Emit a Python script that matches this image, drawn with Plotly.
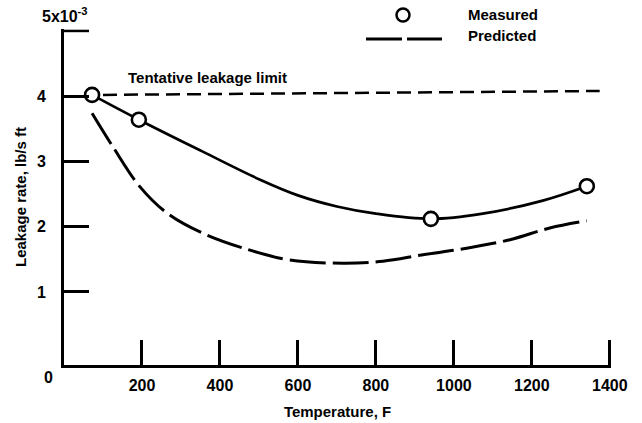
import plotly.graph_objects as go

# ---- data ----
temp_ticks = [200, 400, 600, 800, 1000, 1200, 1400]
temp_ticklabels = ["200", "400", "600", "800", "1000", "1200", "1400"]
rate_ticks = [1, 2, 3, 4]
rate_ticklabels = ["1", "2", "3", "4"]
rate_top = 5  # top of scale, labelled 5x10^-3

meas_temp = [72, 192, 941, 1341]
meas_rate = [4.02, 3.64, 2.12, 2.62]

meas_curve_temp = [72, 192, 356, 503, 600, 700, 800, 941, 1074, 1228, 1341]
meas_curve_rate = [4.02, 3.64, 3.15, 2.72, 2.48, 2.31, 2.20, 2.12, 2.20, 2.40, 2.62]

pred_temp = [72, 126, 195, 264, 356, 477, 579, 715, 818, 921, 1033, 1144, 1246, 1341]
pred_rate = [3.74, 3.22, 2.61, 2.21, 1.90, 1.64, 1.49, 1.44, 1.47, 1.57, 1.67, 1.80, 1.98, 2.09]

limit_temp = [100, 1374]
limit_rate = [4.02, 4.08]

FONT = "Liberation Sans, Arial, Helvetica, sans-serif"
BLACK = "#000000"

X_RANGE = [0, 1403]
Y_RANGE = [-0.12, 5.03]

W, H = 642, 423
L, R, T, B = 64, 31, 29, 58
pw, ph = W - L - R, H - T - B
TICKLEN = 25

def px_x(p):
    return (p - L) / pw

def px_y(p):
    return (H - B - p) / ph

fig = go.Figure()

fig.add_trace(go.Scatter(x=limit_temp, y=limit_rate, mode="lines",
                         line=dict(color=BLACK, width=2.5, dash="14px,7px"),
                         showlegend=False, hoverinfo="skip"))
fig.add_trace(go.Scatter(x=pred_temp, y=pred_rate, mode="lines", name="Predicted",
                         line=dict(color=BLACK, width=3, dash="36px,7px", shape="spline", smoothing=1),
                         showlegend=False))
fig.add_trace(go.Scatter(x=meas_curve_temp, y=meas_curve_rate, mode="lines",
                         line=dict(color=BLACK, width=2.7, shape="spline", smoothing=1),
                         showlegend=False, hoverinfo="skip"))
fig.add_trace(go.Scatter(x=meas_temp, y=meas_rate, mode="markers", name="Measured",
                         marker=dict(symbol="circle", size=14, color="white",
                                     line=dict(color=BLACK, width=2.6)),
                         showlegend=False, cliponaxis=False))

# edge ticks (plotly omits inside ticks at the very ends of an axis):
# tick length converted from pixels to axis units through the axis scale
x_per_px = (X_RANGE[1] - X_RANGE[0]) / pw
y_per_px = (Y_RANGE[1] - Y_RANGE[0]) / ph
fig.add_trace(go.Scatter(x=[temp_ticks[-1], temp_ticks[-1]],
                         y=[Y_RANGE[0], Y_RANGE[0] + TICKLEN * y_per_px],
                         mode="lines", line=dict(color=BLACK, width=2.5),
                         showlegend=False, hoverinfo="skip"))
fig.add_trace(go.Scatter(x=[X_RANGE[0], X_RANGE[0] + TICKLEN * x_per_px],
                         y=[rate_top, rate_top],
                         mode="lines", line=dict(color=BLACK, width=2.5),
                         showlegend=False, hoverinfo="skip"))

tickfont = dict(family=FONT, size=16, color=BLACK, weight="bold")
txtfont = dict(family=FONT, size=15, color=BLACK, weight="bold")

fig.update_layout(
    width=W, height=H,
    margin=dict(l=L, r=R, t=T, b=B, pad=0),
    paper_bgcolor="white", plot_bgcolor="white",
    showlegend=False,
    xaxis=dict(range=X_RANGE, tickvals=temp_ticks, ticktext=temp_ticklabels,
               ticks="inside", ticklen=TICKLEN, tickwidth=2.5, tickcolor=BLACK,
               showline=True, linewidth=3, linecolor=BLACK, showgrid=False,
               zeroline=False, tickfont=tickfont, ticklabelstandoff=4,
               automargin=False,
               title=dict(text="Temperature, F", font=txtfont, standoff=14)),
    yaxis=dict(range=Y_RANGE, tickvals=rate_ticks, ticktext=rate_ticklabels,
               ticks="inside", ticklen=TICKLEN, tickwidth=2.5, tickcolor=BLACK,
               showline=True, linewidth=3, linecolor=BLACK, showgrid=False,
               zeroline=False, tickfont=tickfont, ticklabelstandoff=12,
               automargin=False,
               title=dict(text="Leakage rate, lb/s ft", font=txtfont, standoff=7)),
)

annotations = [
    dict(x=0, y=Y_RANGE[0], xref="x", yref="y", text="0", showarrow=False,
         xshift=-16, yshift=-12, font=tickfont),
    dict(x=0, y=rate_top, xref="x", yref="y", text="5x10<sup>-3</sup>", showarrow=False,
         xanchor="center", yanchor="bottom", xshift=1, yshift=4,
         font=dict(family=FONT, size=16, color=BLACK, weight="bold")),
    dict(x=369, y=4.29, xref="x", yref="y", text="Tentative leakage limit",
         showarrow=False, font=txtfont),
    dict(x=px_x(466), y=px_y(15), xref="paper", yref="paper", text="Measured",
         showarrow=False, xanchor="left", yanchor="middle", font=txtfont),
    dict(x=px_x(466), y=px_y(35), xref="paper", yref="paper", text="Predicted",
         showarrow=False, xanchor="left", yanchor="middle", font=txtfont),
]
fig.update_layout(annotations=annotations)

# manual legend
fig.add_shape(type="circle", xref="paper", yref="paper",
              xsizemode="pixel", ysizemode="pixel",
              xanchor=px_x(403), yanchor=px_y(15),
              x0=-6.5, x1=6.5, y0=-6.5, y1=6.5,
              line=dict(color=BLACK, width=2.5), fillcolor="white")
fig.add_shape(type="line", xref="paper", yref="paper",
              x0=px_x(366), x1=px_x(442), y0=px_y(39), y1=px_y(39),
              line=dict(color=BLACK, width=3, dash="36px,5px"))

fig.write_html("out.html")
